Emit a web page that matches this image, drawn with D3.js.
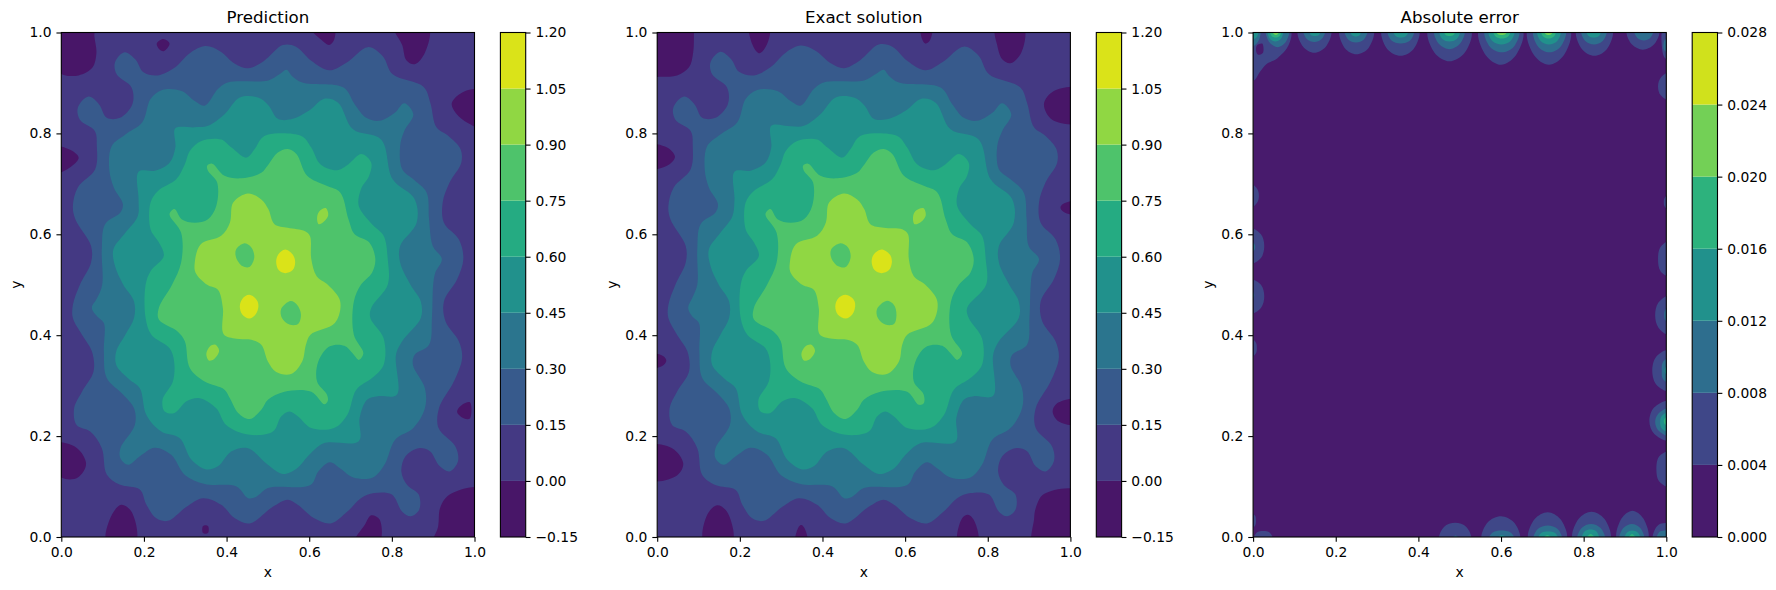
<!DOCTYPE html>
<html>
<head>
<meta charset="utf-8">
<title>Prediction, exact solution, absolute error</title>
<script src="https://d3js.org/d3.v7.min.js"></script>
<style>
  html, body { margin: 0; padding: 0; background: #fff; }
  svg { display: block; }
  text { font-family: "DejaVu Sans", sans-serif; fill: #000; }
</style>
</head>
<body>
<svg id="chart"></svg>
<script>
// tick labels and contour levels
var axisTicks = [0, 0.2, 0.4, 0.6, 0.8, 1];
var fieldLevels = [-0.15, 0, 0.15, 0.3, 0.45, 0.6, 0.75, 0.9, 1.05, 1.2];
var errorLevels = [0, 0.004, 0.008, 0.012, 0.016, 0.02, 0.024, 0.028];
var titles = ["Prediction", "Exact solution", "Absolute error"];

// Iso-lines in data units [x, y].
// Each entry is [band index painted inside the ring, ring], painted in order.
// A ring may leave [0,1] slightly where the iso-line runs out of the frame.

// exact solution
var exactBelowZero = [
  [[-.02,1.02],[.089,1.02],[.089,1],[.087,.96],[.077,.931],[.048,.915],[0,.912],[-.02,.912]],
  [[.224,1.01],[.271,1.01],[.266,.977],[.248,.959],[.234,.97]],
  [[-.02,.777],[.024,.772],[.043,.754],[.028,.738],[-.02,.73]],
  [[.639,1.01],[.665,1.01],[.659,.983],[.649,.978],[.641,.987]],
  [[.819,1.01],[.887,1.01],[.881,.96],[.855,.939],[.835,.947],[.823,.974]],
  [[1.02,.889],[.96,.884],[.936,.858],[.956,.827],[1.02,.822]],
  [[1.02,.666],[.982,.66],[.976,.653],[.984,.644],[1.02,.639]],
  [[-.02,.363],[.016,.358],[.022,.349],[.012,.339],[-.02,.335]],
  [[-.02,.181],[.036,.176],[.063,.146],[.048,.122],[-.02,.113]],
  [[.113,-.01],[.121,.044],[.145,.063],[.169,.05],[.182,-.01]],
  [[.335,-.01],[.343,.021],[.349,.024],[.357,.017],[.363,-.01]],
  [[1.02,.272],[.968,.265],[.957,.249],[.972,.229],[1.02,.224]],
  [[.728,-.01],[.738,.037],[.752,.044],[.766,.034],[.776,-.01]],
  [[.91,-.02],[.912,.035],[.916,.057],[.936,.085],[1.02,.091],[1.02,-.02]]
];
var exactIso015 = [[.129,.941],[.153,.962],[.179,.947],[.198,.922],[.234,.915],[.274,.931],[.311,.96],[.347,.974],[.383,.964],[.42,.939],[.452,.929],[.484,.941],[.501,.952],[.536,.976],[.569,.972],[.605,.944],[.649,.925],[.69,.941],[.742,.972],[.778,.954],[.803,.917],[.879,.891],[.895,.861],[.912,.812],[.94,.795],[.966,.769],[.968,.742],[.94,.703],[.924,.663],[.928,.623],[.964,.59],[.975,.551],[.96,.511],[.928,.467],[.932,.427],[.964,.388],[.972,.355],[.952,.308],[.916,.255],[.916,.216],[.956,.179],[.96,.15],[.94,.13],[.916,.14],[.895,.17],[.867,.176],[.835,.16],[.825,.13],[.839,.103],[.867,.084],[.867,.054],[.847,.041],[.827,.05],[.803,.084],[.758,.087],[.726,.077],[.694,.051],[.653,.027],[.613,.037],[.573,.064],[.548,.074],[.512,.06],[.456,.027],[.42,.037],[.387,.064],[.343,.077],[.303,.06],[.258,.032],[.23,.037],[.206,.064],[.19,.093],[.141,.103],[.109,.123],[.097,.176],[.069,.209],[.036,.222],[.03,.255],[.048,.288],[.077,.328],[.073,.368],[.048,.401],[.027,.434],[.027,.46],[.044,.5],[.069,.544],[.069,.577],[.032,.63],[.027,.656],[.04,.693],[.081,.729],[.086,.775],[.081,.805],[.044,.827],[.039,.851],[.065,.873],[.09,.858],[.109,.831],[.141,.831],[.171,.858],[.169,.891],[.133,.917]];
var exactIso030 = [[.097,.57],[.105,.62],[.141,.643],[.147,.66],[.125,.693],[.115,.729],[.121,.775],[.153,.798],[.194,.822],[.214,.868],[.242,.886],[.291,.884],[.323,.864],[.347,.855],[.379,.888],[.403,.901],[.501,.905],[.528,.917],[.548,.926],[.561,.914],[.585,.901],[.686,.891],[.714,.858],[.742,.831],[.774,.825],[.811,.841],[.835,.86],[.857,.838],[.835,.805],[.823,.775],[.827,.729],[.855,.709],[.887,.683],[.894,.63],[.899,.577],[.924,.551],[.908,.524],[.904,.5],[.901,.434],[.895,.381],[.859,.361],[.855,.341],[.883,.295],[.883,.255],[.855,.216],[.811,.193],[.786,.143],[.758,.118],[.71,.118],[.678,.136],[.653,.148],[.625,.13],[.605,.103],[.5,.097],[.472,.08],[.452,.077],[.424,.1],[.347,.105],[.299,.123],[.266,.163],[.226,.177],[.19,.16],[.161,.143],[.141,.156],[.141,.176],[.176,.222],[.174,.255],[.149,.282],[.109,.315],[.102,.368],[.101,.424],[.085,.437],[.075,.454],[.085,.474],[.097,.5]];
var exactIso045 = [[.276,.815],[.323,.814],[.355,.815],[.395,.838],[.432,.871],[.476,.871],[.501,.856],[.524,.829],[.556,.828],[.601,.845],[.641,.869],[.674,.861],[.71,.808],[.778,.788],[.807,.709],[.859,.67],[.863,.623],[.827,.577],[.827,.544],[.852,.5],[.875,.467],[.875,.434],[.827,.388],[.813,.361],[.813,.28],[.766,.279],[.742,.272],[.724,.236],[.722,.189],[.637,.186],[.601,.163],[.573,.136],[.536,.125],[.5,.143],[.452,.176],[.412,.17],[.379,.14],[.351,.134],[.315,.153],[.286,.196],[.242,.209],[.206,.242],[.19,.295],[.165,.312],[.133,.341],[.133,.368],[.153,.401],[.174,.434],[.174,.467],[.149,.5],[.129,.537],[.125,.57],[.153,.603],[.182,.636],[.187,.669],[.187,.724],[.226,.726],[.262,.742],[.276,.772]];
var exactIso060 = [[.311,.765],[.339,.785],[.387,.788],[.412,.772],[.448,.752],[.468,.769],[.484,.79],[.501,.798],[.581,.795],[.605,.772],[.629,.739],[.669,.727],[.698,.739],[.73,.759],[.754,.742],[.75,.716],[.73,.689],[.726,.656],[.758,.62],[.786,.597],[.795,.551],[.796,.5],[.75,.454],[.754,.434],[.786,.394],[.786,.341],[.758,.315],[.718,.292],[.694,.242],[.661,.216],[.605,.216],[.573,.239],[.552,.249],[.532,.239],[.512,.209],[.452,.203],[.399,.222],[.375,.255],[.335,.275],[.303,.269],[.274,.246],[.25,.249],[.245,.272],[.27,.308],[.273,.348],[.262,.374],[.218,.401],[.202,.434],[.202,.5],[.214,.527],[.246,.557],[.234,.584],[.214,.61],[.214,.663],[.234,.686],[.278,.709],[.299,.739]];
var exactIso075 = [[.262,.64],[.274,.65],[.291,.63],[.323,.623],[.355,.63],[.375,.656],[.377,.703],[.355,.726],[.353,.736],[.365,.74],[.395,.716],[.436,.711],[.484,.722],[.5,.737],[.524,.762],[.548,.769],[.569,.759],[.597,.716],[.645,.696],[.678,.683],[.698,.63],[.714,.6],[.75,.584],[.766,.551],[.758,.524],[.73,.5],[.711,.467],[.711,.401],[.738,.364],[.726,.351],[.71,.364],[.69,.379],[.653,.378],[.625,.348],[.621,.308],[.645,.282],[.645,.265],[.633,.262],[.605,.288],[.54,.288],[.5,.272],[.484,.252],[.456,.234],[.428,.246],[.408,.275],[.395,.292],[.347,.308],[.311,.335],[.299,.388],[.282,.407],[.234,.431],[.234,.454],[.266,.5],[.289,.544],[.289,.603]];
var exactIso090 = [[.321,.544],[.335,.58],[.387,.597],[.408,.623],[.416,.663],[.452,.681],[.484,.669],[.501,.65],[.516,.62],[.548,.613],[.593,.61],[.607,.6],[.609,.551],[.621,.517],[.649,.5],[.678,.467],[.665,.424],[.605,.401],[.593,.381],[.585,.348],[.556,.323],[.52,.327],[.5,.348],[.484,.381],[.46,.391],[.424,.393],[.393,.402],[.391,.454],[.379,.49],[.351,.5],[.323,.524]];
var exactIslands090 = [
  [[.644,.652],[.65,.638],[.639,.625],[.623,.62],[.619,.633],[.625,.646]],
  [[.373,.381],[.382,.369],[.37,.353],[.355,.35],[.349,.363],[.359,.378]]
];
var exactDips090 = [
  [[.442,.582],[.462,.574],[.468,.554],[.456,.535],[.437,.537],[.421,.554],[.421,.57]],
  [[.555,.468],[.573,.46],[.579,.441],[.573,.422],[.552,.421],[.534,.434],[.532,.452]]
];
var exactPeaks105 = [
  [[.543,.57],[.563,.56],[.568,.545],[.561,.529],[.543,.523],[.526,.529],[.519,.545],[.524,.56]],
  [[.456,.48],[.476,.47],[.479,.457],[.472,.441],[.456,.433],[.437,.441],[.431,.457],[.437,.472]]
];

// prediction
var predBelowZero = [
  [[-.02,1.02],[.08,1.02],[.08,.993],[.085,.96],[.075,.93],[.042,.915],[.006,.916],[-.02,.93]],
  [[.231,.978],[.247,.987],[.262,.978],[.248,.963],[.236,.968]],
  [[.602,1.01],[.66,1.01],[.66,.985],[.648,.975],[.63,.985]],
  [[.806,1.01],[.889,1.01],[.88,.96],[.855,.937],[.835,.945],[.825,.975]],
  [[1.02,.885],[.975,.883],[.945,.86],[.955,.84],[.985,.82],[1.02,.81]],
  [[-.02,.773],[.02,.768],[.042,.752],[.025,.735],[-.02,.72]],
  [[.989,.267],[.989,.235],[.975,.235],[.958,.248],[.97,.262]],
  [[-.02,.185],[.035,.178],[.06,.145],[.04,.118],[.01,.115],[-.02,.13]],
  [[.11,-.01],[.12,.04],[.145,.064],[.17,.05],[.18,-.01]],
  [[.343,.022],[.355,.022],[.355,.008],[.343,.008]],
  [[.71,-.01],[.735,.025],[.75,.043],[.77,.035],[.77,-.01]],
  [[.898,-.02],[.912,.021],[.917,.058],[.94,.084],[1.02,.095],[1.02,-.02]]
];
var predIso015 = [[.13,.941],[.153,.961],[.179,.947],[.199,.921],[.234,.915],[.274,.93],[.311,.959],[.349,.973],[.384,.963],[.42,.938],[.452,.929],[.484,.94],[.501,.951],[.536,.975],[.568,.972],[.605,.944],[.649,.925],[.69,.94],[.742,.971],[.778,.953],[.802,.917],[.877,.892],[.893,.861],[.908,.812],[.937,.795],[.966,.769],[.968,.742],[.94,.703],[.923,.663],[.926,.623],[.962,.59],[.973,.551],[.958,.511],[.926,.467],[.93,.427],[.962,.388],[.97,.355],[.95,.308],[.914,.255],[.913,.216],[.954,.179],[.96,.15],[.94,.13],[.916,.14],[.892,.17],[.865,.176],[.833,.16],[.823,.13],[.837,.103],[.865,.084],[.866,.054],[.846,.041],[.825,.05],[.8,.084],[.757,.087],[.725,.077],[.693,.051],[.652,.027],[.612,.037],[.572,.064],[.548,.074],[.512,.06],[.456,.027],[.42,.037],[.387,.064],[.343,.077],[.303,.06],[.258,.032],[.23,.037],[.206,.064],[.19,.094],[.141,.104],[.11,.124],[.098,.176],[.07,.209],[.037,.222],[.031,.255],[.05,.288],[.078,.328],[.074,.368],[.05,.401],[.028,.434],[.028,.46],[.045,.5],[.072,.544],[.072,.577],[.034,.63],[.028,.656],[.04,.693],[.082,.729],[.086,.775],[.081,.805],[.045,.827],[.04,.851],[.066,.873],[.091,.858],[.11,.831],[.142,.831],[.172,.858],[.17,.891],[.134,.917]];
var predIso030 = [[.098,.57],[.106,.62],[.143,.643],[.149,.66],[.127,.693],[.116,.729],[.122,.775],[.155,.798],[.196,.822],[.216,.868],[.244,.886],[.291,.884],[.323,.864],[.347,.855],[.379,.888],[.403,.901],[.501,.905],[.528,.917],[.545,.926],[.558,.914],[.583,.901],[.683,.891],[.71,.858],[.738,.831],[.77,.825],[.807,.841],[.83,.86],[.852,.838],[.83,.805],[.82,.775],[.825,.729],[.852,.709],[.884,.683],[.89,.63],[.899,.577],[.921,.551],[.905,.524],[.9,.5],[.897,.434],[.89,.381],[.855,.361],[.851,.341],[.88,.295],[.88,.255],[.852,.216],[.808,.193],[.782,.143],[.754,.118],[.707,.118],[.675,.136],[.65,.148],[.622,.13],[.603,.103],[.5,.097],[.472,.08],[.452,.077],[.424,.1],[.347,.105],[.299,.123],[.266,.163],[.226,.177],[.19,.16],[.162,.143],[.143,.156],[.143,.176],[.178,.222],[.176,.255],[.15,.282],[.11,.315],[.103,.368],[.103,.424],[.087,.437],[.074,.454],[.087,.474],[.099,.5]];
var predIso045 = [[.276,.81],[.323,.812],[.355,.815],[.395,.838],[.432,.871],[.476,.871],[.501,.856],[.524,.829],[.556,.828],[.599,.845],[.638,.869],[.67,.861],[.706,.808],[.774,.788],[.802,.709],[.855,.67],[.86,.623],[.82,.577],[.82,.544],[.845,.5],[.87,.467],[.87,.434],[.825,.388],[.81,.361],[.812,.282],[.766,.279],[.74,.272],[.722,.236],[.72,.19],[.635,.186],[.6,.163],[.57,.136],[.536,.125],[.5,.143],[.452,.176],[.412,.17],[.379,.14],[.351,.134],[.315,.153],[.286,.196],[.242,.209],[.206,.242],[.19,.295],[.165,.312],[.133,.341],[.133,.368],[.155,.401],[.176,.434],[.176,.467],[.15,.5],[.13,.537],[.126,.57],[.155,.603],[.185,.636],[.187,.669],[.187,.724],[.226,.726],[.262,.742],[.276,.772]];
var predIso060 = [[.311,.765],[.339,.785],[.387,.788],[.412,.772],[.448,.752],[.468,.769],[.484,.79],[.501,.798],[.581,.795],[.605,.772],[.627,.739],[.667,.727],[.695,.739],[.726,.759],[.75,.742],[.745,.716],[.725,.689],[.72,.656],[.752,.62],[.78,.597],[.79,.551],[.79,.5],[.75,.454],[.748,.434],[.78,.394],[.78,.341],[.752,.315],[.714,.292],[.692,.242],[.66,.216],[.605,.216],[.573,.239],[.552,.249],[.532,.239],[.512,.209],[.452,.203],[.399,.222],[.375,.255],[.335,.275],[.303,.269],[.274,.246],[.25,.249],[.245,.272],[.27,.308],[.273,.348],[.262,.374],[.218,.401],[.204,.434],[.204,.5],[.216,.527],[.248,.557],[.236,.584],[.216,.61],[.216,.663],[.234,.686],[.278,.709],[.299,.739]];
var predIso075 = [[.262,.64],[.274,.65],[.291,.63],[.323,.623],[.355,.63],[.375,.656],[.377,.703],[.355,.726],[.353,.736],[.365,.74],[.395,.716],[.436,.711],[.484,.722],[.5,.737],[.524,.762],[.548,.769],[.569,.759],[.595,.716],[.642,.696],[.675,.683],[.695,.63],[.71,.6],[.745,.584],[.76,.551],[.752,.524],[.725,.5],[.708,.467],[.708,.401],[.731,.364],[.72,.351],[.705,.364],[.685,.379],[.65,.378],[.622,.348],[.619,.308],[.643,.282],[.645,.27],[.637,.263],[.605,.288],[.54,.288],[.5,.272],[.484,.252],[.456,.234],[.428,.246],[.408,.275],[.395,.292],[.347,.308],[.311,.335],[.299,.388],[.282,.407],[.236,.431],[.236,.454],[.268,.5],[.29,.544],[.29,.603]];
var predIso090 = [[.323,.544],[.337,.58],[.387,.597],[.408,.623],[.416,.663],[.452,.681],[.484,.669],[.501,.65],[.516,.62],[.548,.613],[.59,.606],[.602,.596],[.605,.551],[.618,.517],[.645,.5],[.675,.467],[.662,.424],[.603,.401],[.592,.381],[.583,.348],[.556,.323],[.52,.327],[.5,.348],[.484,.381],[.46,.391],[.424,.393],[.393,.402],[.391,.454],[.379,.49],[.353,.5],[.325,.524]];
var predIslands090 = [
  [[.64,.652],[.646,.638],[.635,.625],[.623,.62],[.619,.633],[.625,.646]],
  [[.373,.381],[.382,.369],[.37,.353],[.357,.35],[.351,.363],[.36,.378]]
];
var predDips090 = [
  [[.442,.582],[.46,.574],[.467,.554],[.455,.535],[.438,.537],[.423,.554],[.423,.57]],
  [[.555,.468],[.571,.46],[.58,.441],[.573,.422],[.552,.421],[.534,.434],[.532,.452]]
];
var predPeaks105 = [
  [[.542,.57],[.56,.56],[.566,.545],[.56,.529],[.542,.523],[.526,.529],[.52,.545],[.525,.56]],
  [[.455,.48],[.473,.47],[.477,.457],[.47,.441],[.455,.433],[.438,.441],[.432,.457],[.438,.472]]
];

// absolute error: rings per level, all of them hug the frame
var errorDark = [
  [[.01,.975],[.022,.978],[.024,.96],[.012,.956],[.007,.965]]
];
var errorIso004 = [
  [[-.01,1.01],[.09,1.005],[.086,.975],[.059,.949],[.032,.937],[.015,.92],[.004,.906],[-.01,.905]],
  [[.109,1.005],[.121,.972],[.148,.96],[.176,.972],[.188,1.005]],
  [[.21,1.005],[.222,.969],[.25,.957],[.279,.969],[.291,1.005]],
  [[.312,1.005],[.325,.967],[.357,.954],[.388,.967],[.401,1.005]],
  [[.424,1.005],[.439,.96],[.475,.943],[.512,.96],[.527,1.005]],
  [[.547,1.005],[.563,.955],[.6,.936],[.636,.955],[.652,1.005]],
  [[.665,1.005],[.68,.955],[.716,.936],[.752,.955],[.767,1.005]],
  [[.783,1.005],[.796,.967],[.826,.954],[.856,.967],[.869,1.005]],
  [[.905,1.005],[.917,.976],[.943,.966],[.97,.976],[.982,1.005]],
  [[1.01,1.005],[.992,1.005],[.989,.975],[.996,.95],[1.01,.945]],
  [[.451,-.005],[.462,.02],[.489,.028],[.516,.02],[.527,-.005]],
  [[.554,-.005],[.568,.029],[.6,.041],[.631,.029],[.645,-.005]],
  [[.667,-.005],[.681,.035],[.713,.049],[.744,.035],[.758,-.005]],
  [[.774,-.005],[.788,.036],[.819,.05],[.85,.036],[.864,-.005]],
  [[.881,-.005],[.892,.037],[.918,.052],[.944,.037],[.955,-.005]],
  [[.968,-.005],[.975,.019],[.988,.027],[1.01,.025],[1.01,-.005]],
  [[.002,-.005],[.009,.009],[.025,.012],[.04,.009],[.047,-.005]],
  [[1.01,.922],[.986,.91],[.98,.893],[.986,.876],[1.01,.865]],
  [[1.01,.682],[.996,.672],[.994,.663],[.996,.655],[1.01,.645]],
  [[1.01,.587],[.986,.575],[.98,.551],[.986,.527],[1.01,.516]],
  [[1.01,.479],[.981,.465],[.973,.44],[.981,.415],[1.01,.4]],
  [[1.01,.371],[.976,.358],[.966,.33],[.976,.302],[1.01,.289]],
  [[1.01,.27],[.971,.257],[.959,.23],[.971,.204],[1.01,.191]],
  [[1.01,.17],[.983,.16],[.976,.135],[.983,.11],[1.01,.099]],
  [[-.01,.703],[.01,.69],[.014,.677],[.01,.663],[-.01,.65]],
  [[-.01,.612],[.019,.6],[.027,.577],[.019,.553],[-.01,.541]],
  [[-.01,.511],[.019,.5],[.027,.477],[.019,.454],[-.01,.442]],
  [[-.01,.397],[.007,.385],[.009,.375],[.007,.364],[-.01,.352]],
  [[-.01,.052],[.005,.042],[.007,.033],[.005,.023],[-.01,.013]]
];
var errorIso008 = [
  [[-.01,1.01],[.017,1.005],[.014,.985],[.005,.975],[-.01,.97]],
  [[.032,1.005],[.04,.98],[.059,.971],[.078,.98],[.086,1.005]],
  [[.122,1.005],[.13,.987],[.148,.981],[.166,.987],[.174,1.005]],
  [[.222,1.005],[.23,.986],[.249,.98],[.268,.986],[.276,1.005]],
  [[.326,1.005],[.335,.984],[.357,.978],[.38,.984],[.389,1.005]],
  [[.439,1.005],[.45,.977],[.475,.967],[.5,.977],[.511,1.005]],
  [[.561,1.005],[.573,.972],[.602,.961],[.631,.972],[.643,1.005]],
  [[.679,1.005],[.69,.972],[.717,.961],[.744,.972],[.756,1.005]],
  [[.795,1.005],[.804,.983],[.825,.976],[.846,.983],[.855,1.005]],
  [[.923,1.005],[.93,.989],[.946,.984],[.961,.989],[.968,1.005]],
  [[1.01,.99],[.996,.985],[.995,.965],[1.01,.96]],
  [[.48,-.005],[.49,.003],[.5,-.005]],
  [[.57,-.005],[.58,.009],[.601,.013],[.623,.009],[.633,-.005]],
  [[.679,-.005],[.689,.016],[.713,.023],[.737,.016],[.747,-.005]],
  [[.785,-.005],[.795,.018],[.818,.026],[.841,.018],[.851,-.005]],
  [[.887,-.005],[.896,.018],[.917,.026],[.937,.018],[.946,-.005]],
  [[.977,-.005],[.983,.01],[.995,.013],[1.01,.012],[1.01,-.005]],
  [[1.01,.46],[.997,.45],[.995,.44],[.997,.43],[1.01,.42]],
  [[1.01,.356],[.992,.347],[.989,.33],[.992,.313],[1.01,.304]],
  [[1.01,.256],[.981,.245],[.973,.228],[.981,.211],[1.01,.2]],
  [[-.01,.59],[.004,.58],[.005,.575],[.004,.57],[-.01,.56]],
  [[-.01,.495],[.003,.48],[-.01,.46]]
];
var errorIso012 = [
  [[-.01,1.01],[.012,1.005],[.008,.99],[-.01,.985]],
  [[.036,1.005],[.041,.987],[.054,.982],[.067,.987],[.072,1.005]],
  [[.136,1.005],[.14,.995],[.149,.993],[.159,.995],[.163,1.005]],
  [[.235,1.005],[.239,.995],[.249,.992],[.258,.995],[.262,1.005]],
  [[.339,1.005],[.345,.993],[.357,.99],[.37,.993],[.376,1.005]],
  [[.451,1.005],[.458,.987],[.475,.982],[.493,.987],[.5,1.005]],
  [[.57,1.005],[.579,.983],[.601,.976],[.623,.983],[.632,1.005]],
  [[.688,1.005],[.696,.983],[.716,.976],[.736,.983],[.744,1.005]],
  [[.807,1.005],[.812,.993],[.825,.99],[.837,.993],[.842,1.005]],
  [[.59,-.005],[.602,.004],[.615,-.005]],
  [[.69,-.005],[.697,.008],[.714,.011],[.731,.008],[.738,-.005]],
  [[.796,-.005],[.802,.011],[.817,.015],[.831,.011],[.837,-.005]],
  [[.899,-.005],[.905,.009],[.918,.013],[.931,.009],[.937,-.005]],
  [[1.01,.345],[.997,.335],[.996,.33],[.997,.325],[1.01,.315]],
  [[1.01,.248],[.989,.24],[.985,.228],[.989,.215],[1.01,.207]]
];
var errorIso016 = [
  [[.041,1.005],[.045,.993],[.054,.99],[.064,.993],[.068,1.005]],
  [[.462,1.005],[.466,.995],[.475,.993],[.485,.995],[.489,1.005]],
  [[.581,1.005],[.587,.992],[.602,.988],[.617,.992],[.623,1.005]],
  [[.697,1.005],[.702,.992],[.715,.988],[.728,.992],[.733,1.005]],
  [[.701,-.005],[.712,.004],[.724,-.005]],
  [[.804,-.005],[.817,.006],[.83,-.005]],
  [[.907,-.005],[.917,.006],[.928,-.005]],
  [[1.01,.241],[.996,.235],[.994,.23],[.996,.224],[1.01,.218]]
];
var errorIso020 = [
  [[.047,1.005],[.05,.997],[.055,.995],[.06,.997],[.063,1.005]],
  [[.588,1.005],[.592,.997],[.602,.995],[.611,.997],[.615,1.005]],
  [[.704,1.005],[.708,.997],[.715,.995],[.722,.997],[.726,1.005]]
];

function fieldPaint(below, i15, i30, i45, i60, i75, i90, islands, dips, peaks) {
  var out = below.map(function(r) { return [0, r]; });
  [i15, i30, i45, i60, i75, i90].forEach(function(r, i) { out.push([i + 2, r]); });
  islands.forEach(function(r) { out.push([7, r]); });
  dips.forEach(function(r) { out.push([6, r]); });
  peaks.forEach(function(r) { out.push([8, r]); });
  return out;
}

var errorPaint = [];
[errorIso004, errorIso008, errorIso012, errorIso016, errorIso020].forEach(function(rings, i) {
  rings.forEach(function(r) { errorPaint.push([i + 1, r]); });
});
errorDark.forEach(function(r) { errorPaint.push([0, r]); });

var panels = [
  { title: titles[0], left: 61.3, levels: fieldLevels, base: 1, paint: fieldPaint(predBelowZero, predIso015, predIso030, predIso045, predIso060, predIso075, predIso090, predIslands090, predDips090, predPeaks105), fmt: d3.format(".2f") },
  { title: titles[1], left: 657.2, levels: fieldLevels, base: 1, paint: fieldPaint(exactBelowZero, exactIso015, exactIso030, exactIso045, exactIso060, exactIso075, exactIso090, exactIslands090, exactDips090, exactPeaks105), fmt: d3.format(".2f") },
  { title: titles[2], left: 1253.1, levels: errorLevels, base: 0, paint: errorPaint, fmt: d3.format(".3f") }
];

// main svg
var svg = d3.select("#chart")
    .attr("width", 1776)
    .attr("height", 590);

var plotW = 413.2, plotTop = 32.5, plotBottom = 537;
var cbGap = 25.9, cbW = 25.3;
var tickLen = 4.86, lineW = 1.1;

panels.forEach(function(p, idx) {
  var x = d3.scaleLinear().domain([0, 1]).range([p.left, p.left + plotW]);
  var y = d3.scaleLinear().domain([0, 1]).range([plotBottom, plotTop]);

  // band colours are taken at the middle of each level interval
  var nBands = p.levels.length - 1;
  var bandColor = function(i) { return d3.interpolateViridis((i + 0.5) / nBands); };

  var g = svg.append("g");
  var clipId = "clip" + idx;
  g.append("clipPath").attr("id", clipId)
    .append("rect")
    .attr("x", x(0)).attr("y", y(1))
    .attr("width", x(1) - x(0)).attr("height", y(0) - y(1));

  var field = g.append("g").attr("clip-path", "url(#" + clipId + ")");
  field.append("rect")
    .attr("x", x(0)).attr("y", y(1))
    .attr("width", x(1) - x(0)).attr("height", y(0) - y(1))
    .attr("fill", bandColor(p.base));

  var ring = d3.line()
    .x(function(d) { return x(d[0]); })
    .y(function(d) { return y(d[1]); })
    .curve(d3.curveCatmullRomClosed.alpha(0.5));

  field.selectAll("path")
    .data(p.paint)
    .enter().append("path")
    .attr("d", function(d) { return ring(d[1]); })
    .attr("fill", function(d) { return bandColor(d[0]); });

  // frame and axes
  var xAxis = d3.axisBottom(x).tickValues(axisTicks).tickFormat(d3.format(".1f"))
    .tickSize(tickLen).tickPadding(4.9);
  var yAxis = d3.axisLeft(y).tickValues(axisTicks).tickFormat(d3.format(".1f"))
    .tickSize(tickLen).tickPadding(4.9);
  g.append("g").attr("transform", "translate(0," + plotBottom + ")").call(xAxis);
  g.append("g").attr("transform", "translate(" + p.left + ",0)").call(yAxis);

  g.append("rect")
    .attr("x", x(0)).attr("y", y(1))
    .attr("width", x(1) - x(0)).attr("height", y(0) - y(1))
    .attr("fill", "none").attr("stroke", "#000").attr("stroke-width", lineW);

  // colour bar
  var cbLeft = x(1) + cbGap;
  var c = d3.scaleLinear().domain([p.levels[0], p.levels[nBands]]).range([plotBottom, plotTop]);
  g.selectAll(".band")
    .data(d3.range(nBands))
    .enter().append("rect")
    .attr("class", "band")
    .attr("x", cbLeft)
    .attr("y", function(i) { return c(p.levels[i + 1]); })
    .attr("width", cbW)
    .attr("height", function(i) { return c(p.levels[i]) - c(p.levels[i + 1]); })
    .attr("fill", function(i) { return bandColor(i); });
  g.append("rect")
    .attr("x", cbLeft).attr("y", plotTop)
    .attr("width", cbW).attr("height", plotBottom - plotTop)
    .attr("fill", "none").attr("stroke", "#000").attr("stroke-width", lineW);
  var cAxis = d3.axisRight(c).tickValues(p.levels)
    .tickFormat(function(v) { return p.fmt(Math.abs(v) < 1e-9 ? 0 : v).replace("-", "\u2212"); })
    .tickSize(tickLen).tickPadding(4.9);
  g.append("g").attr("transform", "translate(" + (cbLeft + cbW) + ",0)").call(cAxis);

  // texts
  g.selectAll(".domain").remove();
  g.selectAll(".tick line").attr("stroke", "#000").attr("stroke-width", lineW);
  g.selectAll(".tick text").attr("font-size", 13.89).attr("font-family", "DejaVu Sans");

  g.append("text")
    .attr("x", (x(0) + x(1)) / 2).attr("y", 22.5)
    .attr("text-anchor", "middle").attr("font-size", 16.67)
    .text(p.title);
  g.append("text")
    .attr("x", (x(0) + x(1)) / 2).attr("y", 577)
    .attr("text-anchor", "middle").attr("font-size", 13.89)
    .text("x");
  g.append("text")
    .attr("transform", "translate(" + (p.left - 40.5) + "," + ((plotTop + plotBottom) / 2) + ") rotate(-90)")
    .attr("text-anchor", "middle").attr("font-size", 13.89)
    .text("y");
});
</script>
</body>
</html>
